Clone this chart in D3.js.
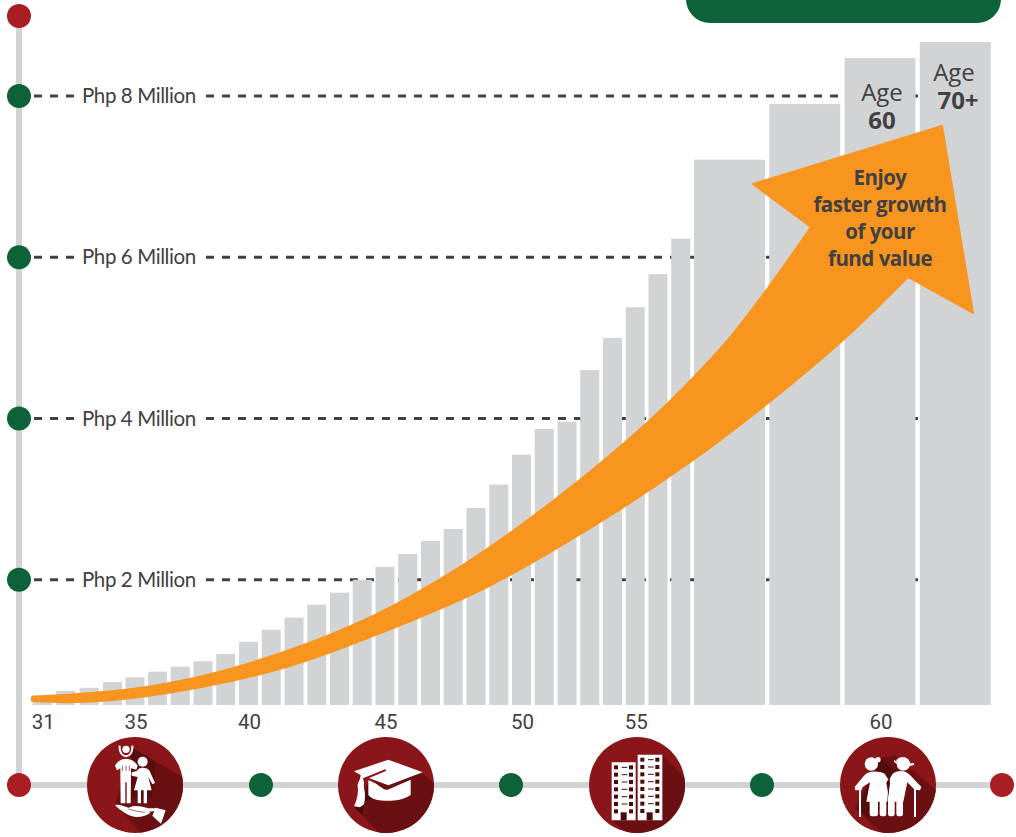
<!DOCTYPE html>
<html>
<head>
<meta charset="utf-8">
<script src="https://cdn.jsdelivr.net/npm/d3@7"></script>
<style>
  html, body { margin: 0; padding: 0; background: #fff; }
  svg { display: block; }
</style>
</head>
<body>
<div id="chart"></div>
<script>
// fund value per bar, Php millions
var fundValues = [0.57, 0.62, 0.66, 0.73, 0.79, 0.86, 0.92, 0.99, 1.08, 1.23, 1.38, 1.53, 1.69, 1.84, 2.00,
                  2.16, 2.32, 2.48, 2.63, 2.89, 3.18, 3.55, 3.87, 3.96, 4.60, 5.00, 5.38, 5.79, 6.23,
                  7.21, 7.90, 8.47, 8.67];
var narrowCount = 29;
var barBase = 0.447; // bars stand on this level, not on zero

var millionTicks = [2, 4, 6, 8];
var ageLabels = ["31", "35", "40", "45", "50", "55", "60"];
var ageSlots = [0, 4, 9, 15, 21, 26, 31];

// outline of the arrow, picture pixels
var arrowUpper = [[32, 697], [147, 687], [237, 667], [360, 622], [463, 565], [557, 498], [647, 423], [693, 378], [727, 341], [768, 288], [811, 227]];
var arrowHead = [[753, 184], [942, 126], [973, 313], [908, 277]];
var arrowLower = [[908, 277], [843, 340], [768, 403], [693, 460], [600, 522], [487, 587], [393, 628], [283, 668], [147, 696], [77, 702], [32, 701]];

var enjoyLines = ["Enjoy", "faster growth", "of your", "fund value"];

var width = 1016, height = 837;
var grey = "#d1d3d4", green = "#0d6239", red = "#a81e23", ink = "#414042",
    orange = "#f8951f", maroon = "#8a1619", shade = "#6b1012", deep = "#4a0a0c";

var svg = d3.select("#chart").append("svg")
    .attr("width", width)
    .attr("height", height);

var y = d3.scaleLinear().domain([0, 8]).range([741, 96]);

// bar slots: narrow ones for the yearly ages, then four wide ones
var x = d3.scaleLinear()
    .domain([0, 3, 5, narrowCount, fundValues.length])
    .range([32.7, 103, 148, 694, 995]);

function barWidth(i) { return i < narrowCount ? 19 : 71; }

// header pill, cut by the top of the page
svg.append("rect")
    .attr("x", 686).attr("y", -40)
    .attr("width", 315).attr("height", 63)
    .attr("rx", 24)
    .style("fill", green);

// dashed million lines sit behind the bars
var rules = svg.append("g").selectAll("g")
    .data(millionTicks)
    .enter().append("g");

rules.append("line")
    .attr("x1", 34).attr("x2", 77)
    .attr("y1", d => y(d)).attr("y2", d => y(d))
    .style("stroke", ink).style("stroke-width", 3).style("stroke-dasharray", "8,8");

rules.append("line")
    .attr("x1", 206).attr("x2", 990)
    .attr("y1", d => y(d)).attr("y2", d => y(d))
    .style("stroke", ink).style("stroke-width", 3).style("stroke-dasharray", "8,8");

rules.append("text")
    .attr("x", 82)
    .attr("y", d => y(d) + 7)
    .text(d => "Php " + d + " Million")
    .style("font-family", "Lato")
    .style("font-size", "20.5px")
    .style("letter-spacing", "-0.4px")
    .style("fill", ink);

svg.append("g").selectAll("rect")
    .data(fundValues)
    .enter().append("rect")
    .attr("x", (d, i) => x(i))
    .attr("y", d => y(d))
    .attr("width", (d, i) => barWidth(i))
    .attr("height", d => y(barBase) - y(d))
    .style("fill", grey);

// age labels under the bars
var xAxis = d3.axisBottom(x)
    .tickValues(ageSlots.map(s => s + (barWidth(s) + 1) / (x(s + 1) - x(s)) / 2))
    .tickFormat((d, i) => ageLabels[i])
    .tickSize(0);

var ageAxis = svg.append("g")
    .attr("transform", "translate(0,714.5)")
    .call(xAxis);
ageAxis.select(".domain").remove();
ageAxis.selectAll("text")
    .attr("y", 0).attr("dy", "0.71em")
    .style("font-family", "Roboto")
    .style("font-size", "20.5px")
    .style("fill", ink);

// arrow
var smooth = d3.line().curve(d3.curveCatmullRom);
var arrowPath = smooth(arrowUpper) + "L" + arrowHead.map(p => p.join(",")).join("L") +
    smooth(arrowLower).replace(/^M/, "L") + "Z";
svg.append("path")
    .attr("d", arrowPath)
    .style("fill", orange)
    .style("stroke", orange)
    .style("stroke-width", 2)
    .style("stroke-linejoin", "round");

svg.append("g").selectAll("text")
    .data(enjoyLines)
    .enter().append("text")
    .attr("x", 880)
    .attr("y", (d, i) => 185 + i * 27)
    .attr("text-anchor", "middle")
    .text(d => d)
    .style("font-family", "Open Sans")
    .style("font-weight", 700)
    .style("font-size", "20.5px")
    .style("letter-spacing", "-0.5px")
    .style("fill", ink);

// labels on the two last bars
function ageNote(cx, top, word, num, numX) {
    svg.append("text").attr("x", cx).attr("y", top).attr("text-anchor", "middle").text(word)
        .style("font-family", "Open Sans").style("font-size", "24px").style("fill", ink);
    svg.append("text").attr("x", numX).attr("y", top + 28).attr("text-anchor", "middle").text(num)
        .style("font-family", "Open Sans").style("font-weight", 700).style("font-size", "24px").style("fill", ink);
}
ageNote(882, 101, "Age", "60", 882);
ageNote(954, 81, "Age", "70+", 958);

// timeline rails and dots
svg.append("line").attr("x1", 19).attr("x2", 19).attr("y1", 16).attr("y2", 785)
    .style("stroke", grey).style("stroke-width", 6);
svg.append("line").attr("x1", 19).attr("x2", 1002).attr("y1", 785).attr("y2", 785)
    .style("stroke", grey).style("stroke-width", 6);

function dot(cx, cy, fill) {
    svg.append("circle").attr("cx", cx).attr("cy", cy).attr("r", 12).style("fill", fill);
}
dot(19, 16, red); dot(19, 785, red); dot(1002, 785, red);
millionTicks.forEach(d => dot(19, y(d), green));
dot(261, 785, green); dot(511, 785, green); dot(762, 785, green);

// round icons. Coordinates inside are 3x the pixels, from the circle centre
var defs = svg.append("defs");
defs.append("clipPath").attr("id", "disc")
    .append("circle").attr("r", 144);

function icon(cx, shadow) {
    var g = svg.append("g").attr("transform", "translate(" + cx + ",785) scale(0.3333)");
    g.append("circle").attr("r", 144).style("fill", maroon);
    g.append("path").attr("d", shadow).attr("clip-path", "url(#disc)").style("fill", shade);
    return g;
}
function white(g, d) { return g.append("path").attr("d", d).style("fill", "#fff"); }
function ball(g, cx, cy, r, fill) {
    return g.append("circle").attr("cx", cx).attr("cy", cy).attr("r", r).style("fill", fill || "#fff");
}

// family on a hand
var family = icon(135, "M-5,-110L150,-20V160H30L-60,57Z");
family.append("path").attr("d", "M-5,-110L60,-70V-30L50,40L-40,40Z").style("fill", deep).style("opacity", 0.5);
ball(family, -27, -107, 11);
family.append("path").attr("d", "M-46,-118C-50,-76 -4,-76 -8,-118")
    .style("fill", "none").style("stroke", "#fff").style("stroke-width", 6);
white(family, "M-60,-58C-50,-74 -40,-78 -27,-78C-14,-78 -2,-74 8,-58L4,-46L-12,-50V-44L-13,55H-25V-8H-29V55H-43L-44,-44V-50L-54,-44Z");
family.append("path").attr("d", "M-38,-58V-42M-27,-58V-42M-17,-58V-42").style("fill", "none").style("stroke", maroon).style("stroke-width", 2);
ball(family, 23, -70, 15);
white(family, "M5,-42C12,-52 18,-52 24,-52C32,-52 40,-50 44,-42L60,-6L52,-2L40,-24L50,16H36V55H26V16H18V55H8V16H-3L8,-24L-10,-28V-38Z");
white(family, "M-60,60C-42,56 -32,66 -18,68C4,58 22,66 40,70L62,70L60,78L42,80L46,84C20,100 -5,100 -30,84C-42,76 -52,70 -60,60Z");
white(family, "M62,68L92,76L78,116L52,92Z");
family.append("path").attr("d", "M-20,72C0,78 10,80 30,82").style("fill", "none").style("stroke", maroon).style("stroke-width", 2);

// graduation cap
var cap = icon(386, "M110,-35L150,0V160H-5L-96,65L-50,-10Z");
cap.append("path").attr("d", "M-53,-10L-40,40L-96,65L-72,90Z").style("fill", deep);
white(cap, "M-53,-14C-20,-4 -10,18 5,14L74,-16V30C50,45 30,47 5,47C-20,47 -40,45 -53,30Z");
white(cap, "M-96,-41L7,-76L110,-38L7,1L-60,-24L-68,-16C-64,-6 -68,-2 -66,10C-62,26 -62,40 -66,58L-78,67L-96,64C-86,44 -84,24 -84,10C-88,0 -82,-10 -78,-18L-76,-30Z");
cap.append("path").attr("d", "M-3,-44L-66,-18").style("fill", "none").style("stroke", maroon).style("stroke-width", 6).style("stroke-linecap", "round");

// flats
var flats = icon(637, "M76,-91L150,-15V160H-10L-76,106Z");
white(flats, "M-76,-68H-4V106H-76Z");
white(flats, "M2,-91H76V106H2Z");
function windows(g, left, rows, top) {
    d3.range(rows).forEach(function (r) {
        var wy = top + r * 22;
        g.append("rect").attr("x", left + 7).attr("y", wy - 6).attr("width", 12).attr("height", 12).style("fill", deep);
        g.append("rect").attr("x", left + 52).attr("y", wy - 6).attr("width", 12).attr("height", 12).style("fill", deep);
        if (r < rows - 1) g.append("rect").attr("x", left + 30).attr("y", wy - 1.5).attr("width", 17).attr("height", 3).style("fill", deep);
    });
}
windows(flats, -76, 7, -53);
windows(flats, 3, 8, -76);
flats.append("rect").attr("x", -49).attr("y", 82).attr("width", 18).attr("height", 24).style("fill", deep);
flats.append("rect").attr("x", 29).attr("y", 82).attr("width", 18).attr("height", 24).style("fill", deep);

// elderly couple
var couple = icon(888, "M-24,-80L20,-90L150,20V160H0L-100,70Z");
couple.append("path").attr("d", "M-24,-80L30,-40V40L-60,96L-90,70Z").style("fill", deep).style("opacity", 0.7);
ball(couple, -50, -63, 20);
ball(couple, -30, -76, 8);
ball(couple, 46, -63, 20);
white(couple, "M18,-75C30,-66 60,-64 78,-66L78,-60C60,-54 30,-56 18,-70Z");
white(couple, "M24,-73C30,-88 60,-88 66,-66Z");
white(couple, "M-100,6L-72,-28C-60,-42 -30,-44 -10,-34L2,-15L-2,50H-65L-54,-8L-76,6L-80,16H-98Z");
white(couple, "M6,-20L14,-34C30,-46 52,-44 66,-30L100,6L96,16L80,14L58,-8L46,50H0Z");
[[-55, 25], [-25, 20], [0, 20], [25, 20]].forEach(function (leg) {
    couple.append("rect").attr("x", leg[0]).attr("y", 30).attr("width", leg[1]).attr("height", 64).attr("rx", 7).style("fill", "#fff");
});
couple.append("rect").attr("x", -87).attr("y", 10).attr("width", 6).attr("height", 86).style("fill", "#fff");
couple.append("rect").attr("x", 78).attr("y", 10).attr("width", 6).attr("height", 86).style("fill", "#fff");
couple.append("path").attr("d", "M-5,-6L1,28L6,-6L1,-18Z").style("fill", deep);
</script>
</body>
</html>
